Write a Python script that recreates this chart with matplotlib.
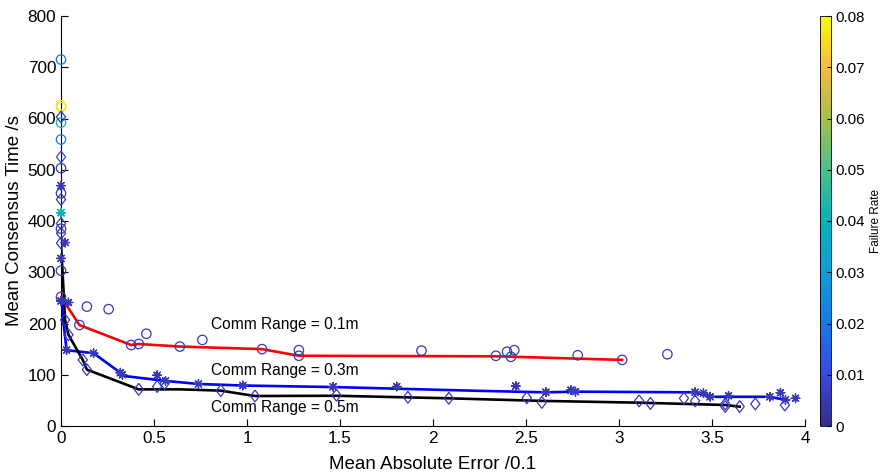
import numpy as np
import matplotlib.pyplot as plt
from matplotlib.colors import LinearSegmentedColormap, Normalize
from matplotlib.cm import ScalarMappable

plt.rcParams['font.family'] = ['Liberation Sans', 'DejaVu Sans']

# parula-like colormap
parula = LinearSegmentedColormap.from_list('parula', [
    (0.00, (0.208, 0.166, 0.529)),
    (0.125, (0.230, 0.280, 0.900)),
    (0.25, (0.080, 0.480, 0.900)),
    (0.375, (0.060, 0.620, 0.840)),
    (0.50, (0.020, 0.700, 0.720)),
    (0.625, (0.300, 0.750, 0.550)),
    (0.75, (0.650, 0.750, 0.300)),
    (0.875, (0.960, 0.730, 0.250)),
    (1.00, (0.976, 0.984, 0.055)),
])
norm = Normalize(0, 0.08)

# Comm Range = 0.1m (circles)
r01_line_x = [0, 0.099, 0.377, 0.418, 0.639, 1.081, 1.279, 2.338, 3.017]
r01_line_y = [252, 197, 158, 160, 155, 150, 137, 136, 129]
r01_x = [0, 0, 0, 0, 0, 0, 0, 0, 0, 0,
         0.099, 0.139, 0.256, 0.377, 0.418, 0.459, 0.639, 0.76, 1.081, 1.279,
         1.279, 1.938, 2.338, 2.398, 2.419, 2.437, 2.778, 3.017, 3.26]
r01_y = [715, 626, 622, 592, 559, 503, 454, 385, 303, 252,
         197, 233, 228, 158, 160, 180, 155, 168, 150, 148,
         137, 147, 137, 145, 135, 148, 138, 129, 140]
r01_f = [0.02, 0.08, 0.075, 0.04, 0.02, 0.005, 0.005, 0.005, 0.005, 0.005,
         0.005, 0.005, 0.005, 0.005, 0.005, 0.005, 0.005, 0.005, 0.005, 0.005,
         0.005, 0.005, 0.005, 0.005, 0.005, 0.005, 0.005, 0.005, 0.005]

# Comm Range = 0.3m (asterisks)
r03_line_x = [0, 0.03, 0.175, 0.319, 0.34, 0.562, 0.739, 0.977, 1.463, 2.26,
              2.607, 2.766, 3.409, 3.49, 3.811, 3.895]
r03_line_y = [246, 148, 142, 104, 97.6, 88, 82, 79, 76, 68.5,
              65.7, 67, 65.7, 57, 57, 50.7]
r03_x = [0, 0, 0.022, 0, 0.04, 0, 0.03, 0.175, 0.319, 0.33, 0.517, 0.562, 0.739,
         0.977, 1.463, 1.805, 2.445, 2.607, 2.742, 2.766, 3.409, 3.454, 3.49,
         3.589, 3.811, 3.868, 3.895, 3.949]
r03_y = [469, 416, 358, 327, 241, 244, 148, 142, 104, 100, 99, 88, 82,
         79, 76.5, 77, 78, 66, 70, 67, 66, 64, 57,
         59, 57, 65, 51, 54]
r03_f = [0.005, 0.04] + [0.005] * 26

# Comm Range = 0.5m (diamonds)
r05_line_x = [0, 0.022, 0.04, 0.117, 0.139, 0.418, 0.643, 0.859, 1.043, 1.481,
              2.085, 2.585, 3.108, 3.571, 3.649]
r05_line_y = [357, 207, 178, 129, 110, 71.5, 71.5, 69, 58.5, 59,
              54, 49, 45.5, 41, 37.7]
r05_x = [0, 0, 0, 0, 0, 0, 0.022, 0.04, 0.117, 0.139, 0.418, 0.517, 0.557,
         0.859, 1.043, 1.481, 1.865, 2.085, 2.504, 2.585, 3.108, 3.169, 3.349,
         3.409, 3.571, 3.571, 3.649, 3.733, 3.892]
r05_y = [603, 525, 442, 395, 376, 357, 207, 178, 129, 110, 71.5, 77, 83,
         69, 58.5, 60, 56, 54, 55, 46, 49, 44, 54,
         49, 43, 38, 38, 43, 41]
r05_f = [0.005, 0.01] + [0.005] * 27

xticks = [0, 0.5, 1, 1.5, 2, 2.5, 3, 3.5, 4]
xticklabels = ['0', '0.5', '1', '1.5', '2', '2.5', '3', '3.5', '4']
yticks = [0, 100, 200, 300, 400, 500, 600, 700, 800]
cticks = [0, 0.01, 0.02, 0.03, 0.04, 0.05, 0.06, 0.07, 0.08]

fig = plt.figure(figsize=(8.88, 4.76), dpi=100)
ax = fig.add_axes([61/888, 50/476, 744/888, 410/476])

lw = 1.9
ax.plot(r01_line_x, r01_line_y, color='red', lw=lw, zorder=2)
ax.plot(r03_line_x, r03_line_y, color='blue', lw=lw, zorder=2)
ax.plot(r05_line_x, r05_line_y, color='black', lw=lw, zorder=2)

# MATLAB-like diamond, a bit taller than wide
diamond = [(0, 1), (0.78, 0), (0, -1), (-0.78, 0), (0, 1)]

ax.scatter(r01_x, r01_y, s=46, marker='o', facecolors='none',
           edgecolors=parula(norm(np.array(r01_f))), linewidths=0.9,
           zorder=3, clip_on=False)
ax.scatter(r03_x, r03_y, s=38, marker=(8, 2, 0),
           c=parula(norm(np.array(r03_f))), linewidths=1.0,
           zorder=3, clip_on=False)
ax.scatter(r05_x, r05_y, s=72, marker=diamond, facecolors='none',
           edgecolors=parula(norm(np.array(r05_f))), linewidths=0.9,
           zorder=3, clip_on=False)

ax.text(0.805, 199, 'Comm Range = 0.1m', fontsize=11.2, va='center')
ax.text(0.805, 109, 'Comm Range = 0.3m', fontsize=11.2, va='center')
ax.text(0.805, 37, 'Comm Range = 0.5m', fontsize=11.2, va='center')

ax.set_xlim(0, 4)
ax.set_ylim(0, 800)
ax.set_xticks(xticks)
ax.set_xticklabels(xticklabels)
ax.set_yticks(yticks)
ax.tick_params(direction='in', length=5, labelsize=12.3, width=0.8)
ax.spines['top'].set_visible(False)
ax.spines['right'].set_visible(False)
ax.set_xlabel('Mean Absolute Error /0.1', fontsize=13.5, labelpad=7)
ax.set_ylabel('Mean Consensus Time /s', fontsize=13.5, labelpad=3)

cax = fig.add_axes([820/888, 50/476, 11/888, 410/476])
cb = fig.colorbar(ScalarMappable(norm=norm, cmap=parula), cax=cax, ticks=cticks)
cb.ax.set_yticklabels(['0', '0.01', '0.02', '0.03', '0.04', '0.05', '0.06', '0.07', '0.08'])
cb.ax.tick_params(direction='in', length=3, labelsize=10.8, width=0.8)
cb.outline.set_linewidth(0.6)
cb.set_label('Failure Rate', fontsize=8.5, labelpad=3)

fig.savefig('out.png', dpi=100)
